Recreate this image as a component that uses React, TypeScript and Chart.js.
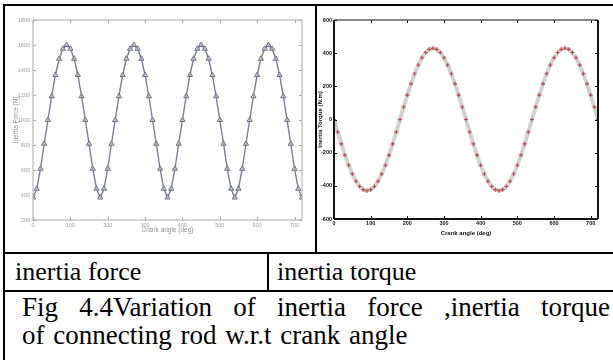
import React, { useEffect, useRef } from "react";
import { Chart, registerables } from "chart.js";
Chart.register(...registerables);

const crankAngles = [
  0, 10, 20, 30, 40, 50, 60, 70, 80, 90, 100, 110, 120, 130, 140, 150, 160, 170,
  180, 190, 200, 210, 220, 230, 240, 250, 260, 270, 280, 290, 300, 310, 320, 330, 340, 350,
  360, 370, 380, 390, 400, 410, 420, 430, 440, 450, 460, 470, 480, 490, 500, 510, 520, 530,
  540, 550, 560, 570, 580, 590, 600, 610, 620, 630, 640, 650, 660, 670, 680, 690, 700, 710, 720,
];

const inertiaForce = [
  380, 450, 610, 810, 1000, 1190, 1360, 1490, 1570, 1600, 1570, 1490, 1360, 1190, 1000, 810, 610, 450,
  380, 450, 610, 810, 1000, 1190, 1360, 1490, 1570, 1600, 1570, 1490, 1360, 1190, 1000, 810, 610, 450,
  380, 450, 610, 810, 1000, 1190, 1360, 1490, 1570, 1600, 1570, 1490, 1360, 1190, 1000, 810, 610, 450,
  380, 450, 610, 810, 1000, 1190, 1360, 1490, 1570, 1600, 1570, 1490, 1360, 1190, 1000, 810, 610, 450,
  380,
];

const inertiaTorque = [
  0, -75, -147, -215, -276, -329, -372, -404, -423, -430, -423, -404, -372, -329, -276, -215, -147, -75,
  0, 75, 147, 215, 276, 329, 372, 404, 423, 430, 423, 404, 372, 329, 276, 215, 147, 75,
  0, -75, -147, -215, -276, -329, -372, -404, -423, -430, -423, -404, -372, -329, -276, -215, -147, -75,
  0, 75, 147, 215, 276, 329, 372, 404, 423, 430, 423, 404, 372, 329, 276, 215, 147, 75,
  0,
];

const angleTicks = [0, 100, 200, 300, 400, 500, 600, 700];
const forceTicks = [200, 400, 600, 800, 1000, 1200, 1400, 1600, 1800];
const torqueTicks = [-600, -400, -200, 0, 200, 400, 600];

const forceXTitle = "Crank angle (deg)";
const forceYTitle = "Inertia Force [N]";
const torqueXTitle = "Crank angle (deg)";
const torqueYTitle = "Inertia Torque (N.m)";

const plainLabel = (v: any) => String(v);

const framePlugin = {
  id: "frame",
  afterDatasetsDraw(chart: any, _args: any, opts: any) {
    const { ctx, chartArea } = chart;
    const { left, right, top, bottom } = chartArea;
    const xs = chart.scales.x;
    const ys = chart.scales.y;
    ctx.save();
    ctx.strokeStyle = opts.color;
    const tl = opts.tickLength;
    ctx.lineWidth = opts.tickWidth;
    ctx.beginPath();
    xs.ticks.forEach((t: any) => {
      const px = Math.round(xs.getPixelForValue(t.value)) + 0.5;
      ctx.moveTo(px, bottom);
      ctx.lineTo(px, bottom - tl);
      ctx.moveTo(px, top);
      ctx.lineTo(px, top + tl);
    });
    ys.ticks.forEach((t: any) => {
      const py = Math.round(ys.getPixelForValue(t.value)) + 0.5;
      ctx.moveTo(left, py);
      ctx.lineTo(left + tl, py);
      ctx.moveTo(right, py);
      ctx.lineTo(right - tl, py);
    });
    ctx.stroke();
    const line = (w: number, x1: number, y1: number, x2: number, y2: number) => {
      ctx.lineWidth = w;
      ctx.beginPath();
      ctx.moveTo(x1, y1);
      ctx.lineTo(x2, y2);
      ctx.stroke();
    };
    const w = opts.widths;
    line(w.left, left, top, left, bottom);
    line(w.bottom, left, bottom, right, bottom);
    line(w.top, left, top, right, top);
    line(w.right, right, top, right, bottom);
    ctx.restore();
  },
};

function ForceChart() {
  const ref = useRef<HTMLCanvasElement | null>(null);
  useEffect(() => {
    const tickFont = { family: "Liberation Sans, Arial", size: 5.5 };
    const chart = new Chart(ref.current!, {
      type: "line",
      data: {
        datasets: [
          {
            data: crankAngles.map((a, i) => ({ x: a, y: inertiaForce[i] })),
            borderColor: "#7a7f95",
            borderWidth: 1.4,
            pointStyle: "triangle",
            pointRadius: 3,
            pointBorderWidth: 1,
            pointBorderColor: "#6c7188",
            pointBackgroundColor: "rgba(200,202,212,0.7)",
            tension: 0,
          },
        ],
      },
      plugins: [framePlugin],
      options: {
        animation: false,
        responsive: false,
        devicePixelRatio: 1,
        layout: { padding: { top: 12, right: 6, left: 0, bottom: 0 } },
        plugins: {
          legend: { display: false },
          tooltip: { enabled: false },
          frame: {
            color: "#a8a8a8",
            tickLength: 3,
            tickWidth: 1,
            widths: { left: 1, bottom: 1, top: 1, right: 1 },
          },
        },
        scales: {
          x: {
            type: "linear",
            min: 0,
            max: 720,
            afterBuildTicks: (s: any) => {
              s.ticks = angleTicks.map((v) => ({ value: v }));
            },
            afterFit: (s: any) => {
              s.height = 30;
            },
            grid: { display: false, drawTicks: false },
            border: { display: false },
            ticks: { font: tickFont, color: "#9c9c9c", padding: 2, maxRotation: 0, autoSkip: false, callback: plainLabel },
            title: {
              display: true,
              text: forceXTitle,
              color: "#8f8f8f",
              font: { family: "Liberation Sans, Arial", size: 6.5 },
              padding: { top: 0, bottom: 16 },
            },
          },
          y: {
            type: "linear",
            min: 200,
            max: 1800,
            afterBuildTicks: (s: any) => {
              s.ticks = forceTicks.map((v) => ({ value: v }));
            },
            afterFit: (s: any) => {
              s.width = 25;
            },
            grid: { display: false, drawTicks: false },
            border: { display: false },
            ticks: { font: tickFont, color: "#9c9c9c", padding: 3, autoSkip: false, callback: plainLabel },
            title: {
              display: true,
              text: forceYTitle,
              color: "#8f8f8f",
              font: { family: "Liberation Sans, Arial", size: 6.5 },
              padding: { top: 4, bottom: 0 },
            },
          },
        },
      },
    } as any);
    return () => chart.destroy();
  }, []);
  return <canvas ref={ref} width={300} height={242} style={{ position: "absolute", left: 8, top: 8 }} />;
}

function TorqueChart() {
  const ref = useRef<HTMLCanvasElement | null>(null);
  useEffect(() => {
    const tickFont = { family: "Liberation Sans, Arial", size: 5.5, weight: "bold" };
    const chart = new Chart(ref.current!, {
      type: "line",
      data: {
        datasets: [
          {
            data: crankAngles.map((a, i) => ({ x: a, y: inertiaTorque[i] })),
            borderColor: "rgba(205,205,205,0.9)",
            borderWidth: 4,
            pointStyle: "cross",
            pointRadius: 2,
            pointBorderWidth: 1.1,
            pointBorderColor: "#c04848",
            tension: 0,
          },
        ],
      },
      plugins: [framePlugin],
      options: {
        animation: false,
        responsive: false,
        devicePixelRatio: 1,
        layout: { padding: { top: 12, right: 9, left: 0, bottom: 0 } },
        plugins: {
          legend: { display: false },
          tooltip: { enabled: false },
          frame: {
            color: "#111111",
            tickLength: 3,
            tickWidth: 1,
            widths: { left: 2, bottom: 2, top: 1, right: 2 },
          },
        },
        scales: {
          x: {
            type: "linear",
            min: 0,
            max: 720,
            afterBuildTicks: (s: any) => {
              s.ticks = angleTicks.map((v) => ({ value: v }));
            },
            afterFit: (s: any) => {
              s.height = 31;
            },
            grid: { display: false, drawTicks: false },
            border: { display: false },
            ticks: { font: tickFont, color: "#111", padding: 1, maxRotation: 0, autoSkip: false, callback: plainLabel },
            title: {
              display: true,
              text: torqueXTitle,
              color: "#111",
              font: { family: "Liberation Sans, Arial", size: 6, weight: "bold" },
              padding: { top: 0, bottom: 13 },
            },
          },
          y: {
            type: "linear",
            min: -600,
            max: 600,
            afterBuildTicks: (s: any) => {
              s.ticks = torqueTicks.map((v) => ({ value: v }));
            },
            afterFit: (s: any) => {
              s.width = 17;
            },
            grid: { display: false, drawTicks: false },
            border: { display: false },
            ticks: { font: tickFont, color: "#111", padding: 2, autoSkip: false, callback: plainLabel },
            title: {
              display: true,
              text: torqueYTitle,
              color: "#111",
              font: { family: "Liberation Sans, Arial", size: 6, weight: "bold" },
              padding: { top: 0, bottom: 0 },
            },
          },
        },
      },
    } as any);
    return () => chart.destroy();
  }, []);
  return <canvas ref={ref} width={290} height={242} style={{ position: "absolute", left: 317, top: 8 }} />;
}

const serif = '"Liberation Serif", "Times New Roman", serif';

function Rule(props: { l: number; t: number; w: number; h: number }) {
  return (
    <div
      style={{ position: "absolute", left: props.l, top: props.t, width: props.w, height: props.h, background: "#000" }}
    />
  );
}

export default function App() {
  const textBase: React.CSSProperties = {
    position: "absolute",
    fontFamily: serif,
    fontSize: 26,
    lineHeight: "26px",
    color: "#000",
    whiteSpace: "nowrap",
  };
  return (
    <div
      style={{
        position: "fixed",
        left: 0,
        top: 0,
        width: 613,
        height: 360,
        background: "#fff",
        overflow: "hidden",
      }}
    >
      <ForceChart />
      <TorqueChart />
      <Rule l={3} t={4} w={610} h={2} />
      <Rule l={3} t={4} w={2} h={356} />
      <Rule l={315} t={4} w={2} h={249} />
      <Rule l={3} t={252} w={610} h={2} />
      <Rule l={267} t={252} w={2} h={40} />
      <Rule l={3} t={290} w={610} h={2} />
      <div style={{ ...textBase, left: 15, top: 259 }}>inertia force</div>
      <div style={{ ...textBase, left: 277, top: 259 }}>inertia torque</div>
      <div
        style={{
          ...textBase,
          fontSize: 27,
          whiteSpace: "normal",
          left: 22,
          top: 294,
          width: 588,
          textAlign: "justify",
          textAlignLast: "justify",
        }}
      >
        Fig 4.4Variation of inertia force ,inertia torque
      </div>
      <div style={{ ...textBase, fontSize: 27, left: 22, top: 322, wordSpacing: 2 }}>
        of connecting rod w.r.t crank angle
      </div>
    </div>
  );
}
